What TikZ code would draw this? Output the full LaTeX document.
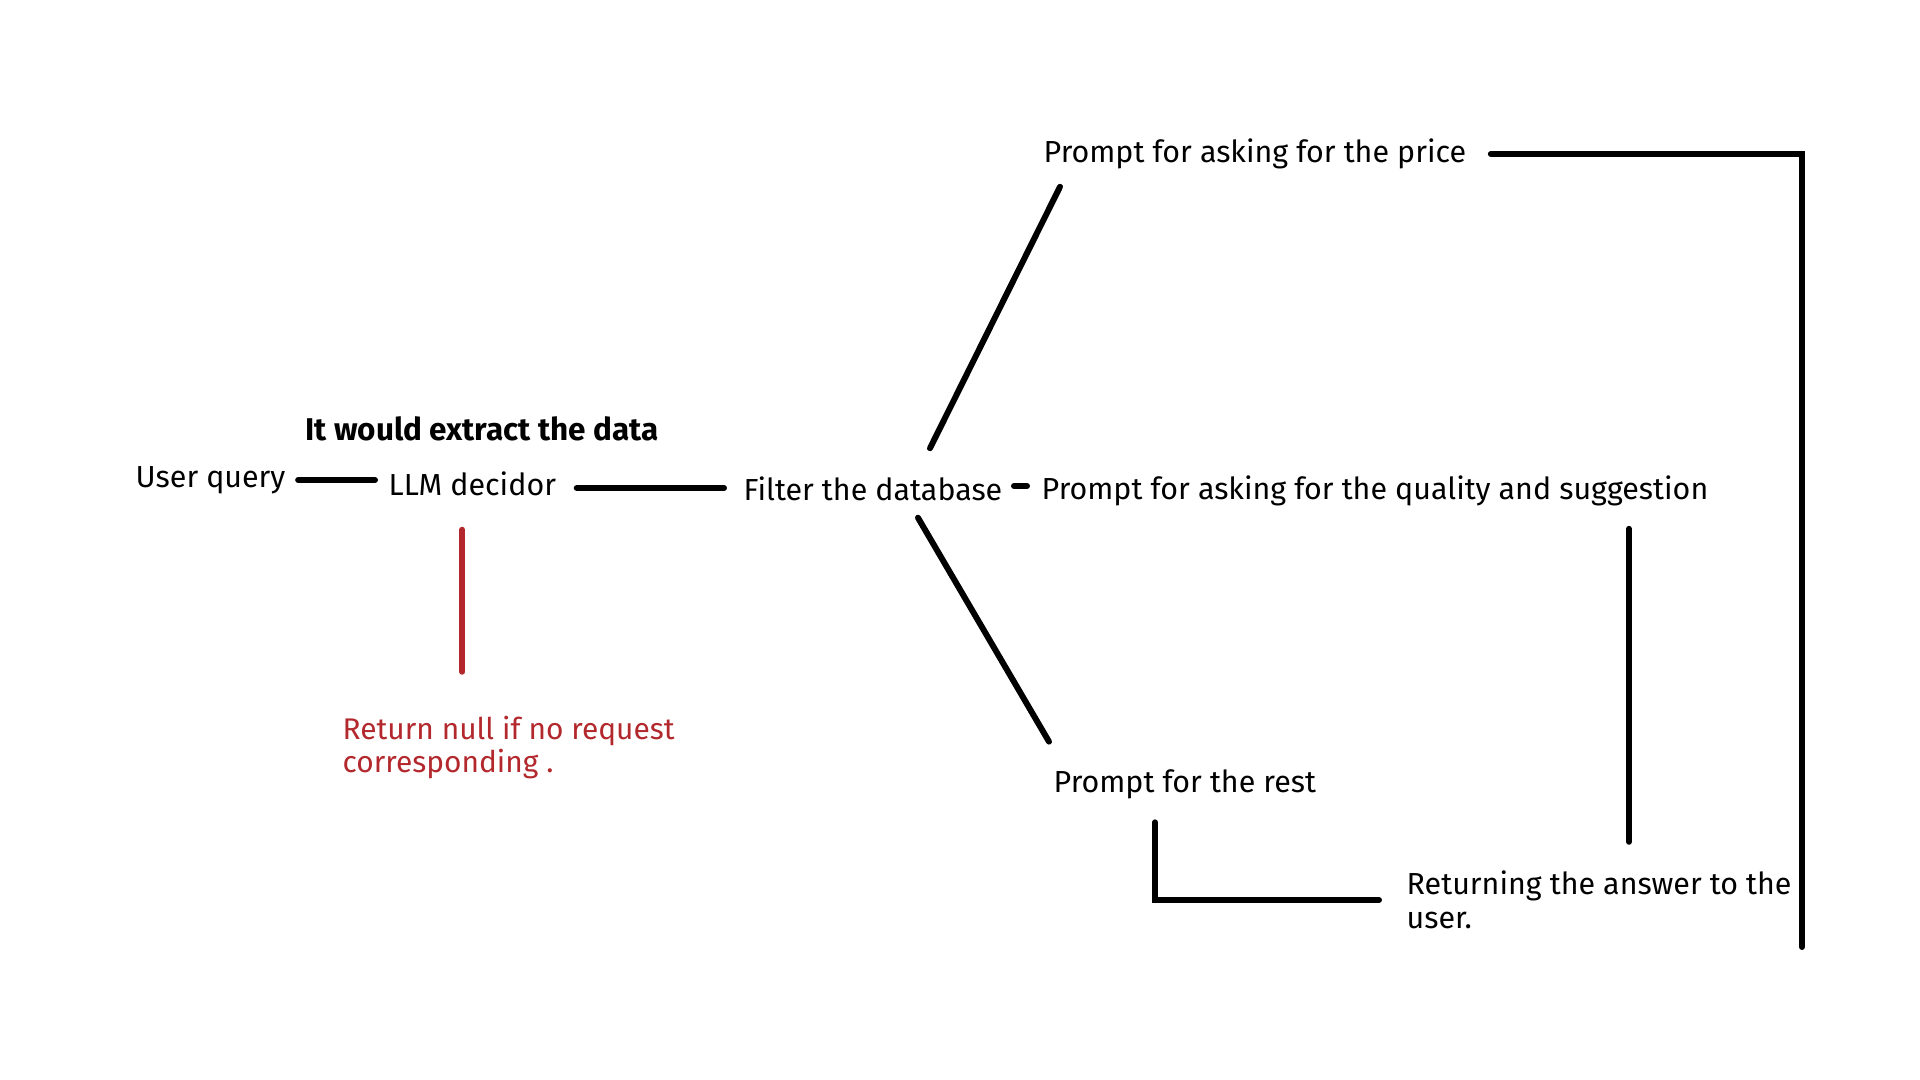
\documentclass[tikz,border=0pt]{standalone}
\usepackage{fontspec}
\setmainfont{Fira Sans}
\newfontfamily\notefont{Fira Sans}
\usetikzlibrary{positioning}
\usetikzlibrary{calc}
\definecolor{nullred}{RGB}{178,40,45}

\begin{document}
\begin{tikzpicture}[
  x=0.01cm,y=-0.01cm,
  every node/.style={font=\fontsize{8.65}{9.5}\selectfont,inner sep=0pt,anchor=west},
  link/.style={line width=1.7pt,line cap=round},
  ]
  \useasboundingbox (0,0) rectangle (1920,1080);
  \node (query)    at (135,480) {User query};
  \node (decidor)  at (388,484) {LLM decidor};
  \node (extract)  [anchor=center,font=\fontsize{8.95}{9.5}\selectfont\bfseries] at (482,429) {It would extract the data};
  \node (filter)   at (743,489) {Filter the database};
  \node (price)    at (1043,154) {Prompt for asking for the price};
  \node (quality)  at (1041,491) {Prompt for asking for the quality and suggestion};
  \node (rest)     at (1053,784) {Prompt for the rest};
  \node (answer)   [align=left] at (1406,900) {Returning the answer to the\\user.};
  \node (null)     [align=left,text=nullred,font=\fontsize{8.5}{9.4}\notefont] at (342,748) {Return null if no request\\corresponding .};
  \coordinate (tail) at (1802,947);
  \coordinate (drop) at ($(decidor.south)+(-10,0)$);

  \draw [link,shorten <=0.12cm,shorten >=0.13cm] (query.east) -- (query.east -| decidor.west);
  \draw [link,shorten <=0.2cm,shorten >=0.19cm] ($(decidor.east)+(0,4)$) -- ($(decidor.east -| filter.west)+(0,4)$);
  \draw [link,shorten <=0.11cm,shorten >=0.14cm] ($(filter.east)+(0,-3)$) -- ($(filter.east -| quality.west)+(0,-3)$);
  \draw [link] ($(filter.north)+(57,-28)$) -- ($(price.south west)+(17,17)$);
  \draw [link] ($(filter.south)+(45,16)$) -- ($(rest.north west)+(-4,-27)$);
  \draw [link,shorten <=0.24cm] (price.east) -| (tail);
  \draw [link] ($(quality.south west)+(588,22)$) -- ($(quality.south west)+(588,335)$);
  \draw [link] ($(rest.south west)+(102,23)$) |- ($(answer.west)+(-27,0)$);
  \draw [link,nullred] ($(drop)+(0,33)$) -- ($(drop)+(0,175)$);
\end{tikzpicture}
\end{document}
